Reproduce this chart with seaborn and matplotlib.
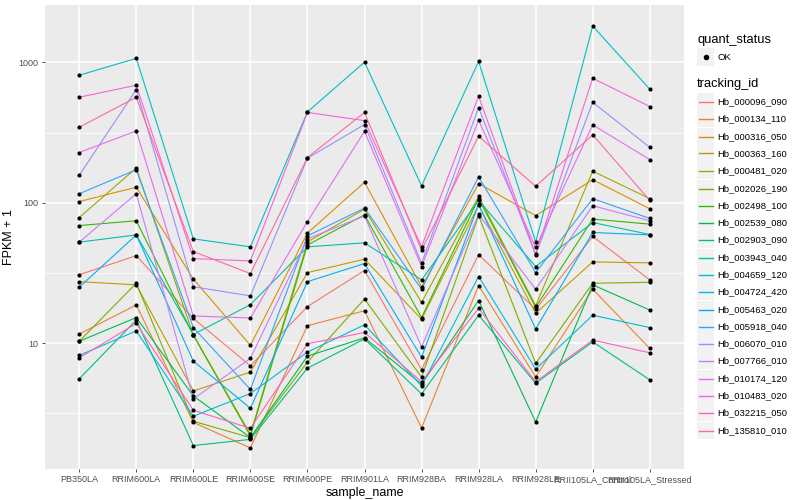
import numpy as np
import pandas as pd
import seaborn as sns
import matplotlib.pyplot as plt
from matplotlib.patches import Rectangle
from matplotlib.lines import Line2D
from matplotlib.ticker import FixedLocator, FixedFormatter, NullFormatter

# sample order on the x axis
samples = ["PB350LA", "RRIM600LA", "RRIM600LE", "RRIM600SE", "RRIM600PE",
           "RRIM901LA", "RRIM928BA", "RRIM928LA", "RRIM928LE",
           "RRII105LA_Control", "RRII105LA_Stressed"]

# FPKM + 1 per gene
hb_000096_090 = [30.7, 42, 15.0, 6.88, 18.2, 32.9, 6.48, 42.7, 17.4, 57.5, 28.2]
hb_000134_110 = [11.6, 18.7, 2.72, 1.79, 13.3, 17, 2.48, 25.7, 5.74, 24.2, 9.16]
hb_000316_050 = [102, 129, 28.6, 9.63, 60.8, 140, 25.2, 137, 81, 146, 90.6]
hb_000363_160 = [27.4, 26, 4.56, 6.21, 31.8, 39.6, 14.8, 96, 16.3, 37.9, 37.3]
hb_000481_020 = [78.5, 177, 11.4, 2.24, 52.6, 90, 19.5, 111, 18.5, 168, 107]
hb_002026_190 = [10.3, 26.7, 2.77, 2.12, 7.32, 20.6, 5.72, 81, 7.16, 26.7, 27.1]
hb_002498_100 = [68.8, 74.4, 11.4, 2.18, 50, 82, 15.2, 107, 18, 76.5, 70.4]
hb_002539_080 = [10.3, 15.2, 4.2, 2.12, 8.07, 10.9, 5.1, 20.1, 2.74, 26, 17.2]
hb_002903_090 = [5.56, 14.6, 1.86, 2.06, 6.63, 10.7, 4.34, 15.8, 5.18, 10.2, 5.47]
hb_003943_040 = [52.4, 59, 11.5, 18.8, 48.5, 51.8, 28.2, 104, 35.1, 72.3, 59.4]
hb_004659_120 = [811, 1069, 55.3, 48.5, 444, 1005, 132, 1016, 52.4, 1816, 645]
hb_004724_420 = [8.17, 12.2, 3.01, 4.37, 8.63, 13.5, 4.96, 29.8, 6.52, 15.8, 12.9]
hb_005463_020 = [25, 59, 7.44, 3.43, 27.4, 36.9, 7.94, 97.3, 12.6, 61.4, 59]
hb_005918_040 = [116, 172, 12.9, 4.67, 58.1, 91.6, 24.2, 153, 31.8, 107, 77.3]
hb_006070_010 = [157, 641, 25.2, 21.7, 208, 361, 37.1, 477, 42.5, 520, 248]
hb_007766_010 = [52.4, 116, 4.0, 7.78, 55.3, 80.5, 9.4, 82.5, 24.2, 95.2, 74.4]
hb_010174_120 = [228, 325, 15.6, 15.1, 73.5, 323, 35.1, 387, 48, 359, 203]
hb_010483_020 = [565, 688, 40, 38.5, 440, 385, 48.5, 574, 43, 772, 485]
hb_032215_050 = [7.85, 13.8, 3.32, 2.47, 9.89, 11.9, 5.3, 17.7, 5.3, 10.5, 8.53]
hb_135810_010 = [345, 565, 44.9, 31.3, 210, 440, 46, 298, 131, 305, 104]

tracking_ids = ["Hb_000096_090", "Hb_000134_110", "Hb_000316_050", "Hb_000363_160",
                "Hb_000481_020", "Hb_002026_190", "Hb_002498_100", "Hb_002539_080",
                "Hb_002903_090", "Hb_003943_040", "Hb_004659_120", "Hb_004724_420",
                "Hb_005463_020", "Hb_005918_040", "Hb_006070_010", "Hb_007766_010",
                "Hb_010174_120", "Hb_010483_020", "Hb_032215_050", "Hb_135810_010"]
series = [hb_000096_090, hb_000134_110, hb_000316_050, hb_000363_160, hb_000481_020,
          hb_002026_190, hb_002498_100, hb_002539_080, hb_002903_090, hb_003943_040,
          hb_004659_120, hb_004724_420, hb_005463_020, hb_005918_040, hb_006070_010,
          hb_007766_010, hb_010174_120, hb_010483_020, hb_032215_050, hb_135810_010]


def hcl_hex(h, c=100, l=65):
    # polar Luv -> sRGB, like R's hcl()
    xn, yn, zn = 95.047, 100.0, 108.883
    un = 4 * xn / (xn + 15 * yn + 3 * zn)
    vn = 9 * yn / (xn + 15 * yn + 3 * zn)
    u = c * np.cos(np.radians(h))
    v = c * np.sin(np.radians(h))
    y = yn * ((l + 16) / 116) ** 3
    up = u / (13 * l) + un
    vp = v / (13 * l) + vn
    x = y * 9 * up / (4 * vp)
    z = y * (12 - 3 * up - 20 * vp) / (4 * vp)
    x, y, z = x / 100, y / 100, z / 100
    r = 3.2404542 * x - 1.5371385 * y - 0.4985314 * z
    g = -0.9692660 * x + 1.8760108 * y + 0.0415560 * z
    b = 0.0556434 * x - 0.2040259 * y + 1.0572252 * z
    out = []
    for ch in (r, g, b):
        ch = 12.92 * ch if ch <= 0.0031308 else 1.055 * ch ** (1 / 2.4) - 0.055
        out.append(min(max(ch, 0), 1))
    return tuple(out)


hues = np.linspace(15, 375, len(tracking_ids) + 1)[:-1]
palette = {tid: hcl_hex(h) for tid, h in zip(tracking_ids, hues)}

rows = []
for tid, vals in zip(tracking_ids, series):
    for s, v in zip(samples, vals):
        rows.append({"sample_name": s, "tracking_id": tid, "fpkm": v, "quant_status": "OK"})
df = pd.DataFrame(rows)
df["x"] = df["sample_name"].map({s: i for i, s in enumerate(samples)})

plt.rcParams["font.family"] = ["Liberation Sans", "DejaVu Sans"]

fig = plt.figure(figsize=(8, 5), dpi=100)
ax = fig.add_axes([45 / 800, 1 - 469 / 500, 639 / 800, 464 / 500])
ax.set_facecolor("#EBEBEB")

sns.lineplot(data=df, x="x", y="fpkm", hue="tracking_id", palette=palette,
             hue_order=tracking_ids, linewidth=0.8, legend=False, sort=False,
             estimator=None, ax=ax, zorder=3)
sns.scatterplot(data=df, x="x", y="fpkm", color="black", s=9, linewidth=0,
                legend=False, ax=ax, zorder=4)

ax.set_yscale("log")
lo, hi = np.log10(df["fpkm"].min()), np.log10(df["fpkm"].max())
pad = (hi - lo) * 0.05
ax.set_ylim(10 ** (lo - pad), 10 ** (hi + pad))
ax.set_xlim(-0.6, len(samples) - 0.4)

ax.yaxis.set_major_locator(FixedLocator([10, 100, 1000]))
ax.yaxis.set_major_formatter(FixedFormatter(["10", "100", "1000"]))
ax.yaxis.set_minor_locator(FixedLocator([10 ** 0.5, 10 ** 1.5, 10 ** 2.5, 10 ** 3.5]))
ax.yaxis.set_minor_formatter(NullFormatter())
ax.set_xticks(range(len(samples)))
ax.set_xticklabels(samples)

ax.grid(which="major", color="white", linewidth=1.1, zorder=0)
ax.grid(which="minor", axis="y", color="white", linewidth=0.55, zorder=0)
ax.set_axisbelow(True)
for sp in ax.spines.values():
    sp.set_visible(False)
ax.tick_params(which="major", length=2.5, width=0.6, color="#333333",
               labelsize=6.5, labelcolor="#4D4D4D", pad=2)
ax.tick_params(which="minor", length=0)

ax.set_xlabel("sample_name", fontsize=9, color="black", labelpad=2)
ax.set_ylabel("FPKM + 1", fontsize=9, color="black", labelpad=3)

# legends, drawn in figure pixels like ggplot's guide boxes
def fx(px):
    return px / 800


def fy(py):
    return 1 - py / 500


tr = fig.transFigure
fig.text(fx(697), fy(40), "quant_status", fontsize=9.3, va="center", ha="left")
fig.add_artist(Rectangle((fx(697), fy(57 + 8.5)), fx(17), 17 / 500, transform=tr,
                         facecolor="#F2F2F2", edgecolor="none"))
fig.add_artist(Line2D([fx(705.5)], [fy(57)], transform=tr, marker="o",
                      markersize=3, color="black", linestyle="none"))
fig.text(fx(717), fy(57), "OK", fontsize=6.8, va="center", ha="left")

fig.text(fx(697), fy(84), "tracking_id", fontsize=9.3, va="center", ha="left")
for i, tid in enumerate(tracking_ids):
    yc = round(101 + 17.3 * i) + 0.5
    fig.add_artist(Rectangle((fx(697), fy(yc + 8.5)), fx(17), 17 / 500, transform=tr,
                             facecolor="#F2F2F2", edgecolor="none"))
    fig.add_artist(Line2D([fx(698.5), fx(712.5)], [fy(yc), fy(yc)], transform=tr,
                          color=palette[tid], linewidth=1.0))
    fig.text(fx(717), fy(yc), tid, fontsize=6.8, va="center", ha="left")

fig.savefig("out.png", dpi=100)
